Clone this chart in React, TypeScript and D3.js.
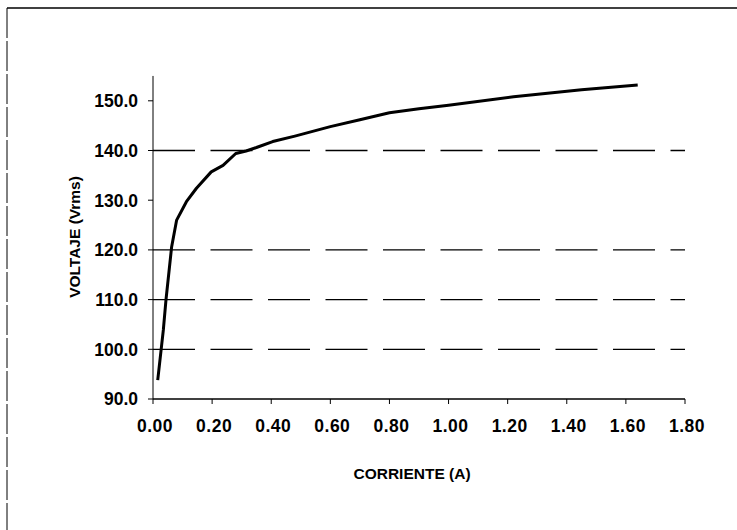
import * as d3 from "d3";
import React from "react";

const width = 737;
const height = 530;
const margin = { top: 77, right: 52, bottom: 131, left: 153 };

// curva de saturacion: corriente (A) vs voltaje (Vrms)
const corriente = [0.016, 0.035, 0.044, 0.063, 0.08, 0.113, 0.147, 0.197, 0.237, 0.28, 0.315, 0.35, 0.405, 0.48, 0.6, 0.7, 0.8, 0.9, 1.0, 1.22, 1.45, 1.64];
const voltaje = [93.8, 103.9, 110, 120.6, 126, 129.7, 132.4, 135.7, 137, 139.4, 139.9, 140.6, 141.8, 142.9, 144.8, 146.2, 147.6, 148.4, 149.1, 150.8, 152.2, 153.2];

const xTicks = [0, 0.2, 0.4, 0.6, 0.8, 1.0, 1.2, 1.4, 1.6, 1.8];
const yTicks = [90, 100, 110, 120, 130, 140, 150];
const gridValues = [100, 110, 120, 140];

const font = "'Liberation Sans', Arial, sans-serif";

const App = () => {
  const x = d3
    .scaleLinear()
    .domain([0, 1.8])
    .range([margin.left, width - margin.right]);
  const y = d3
    .scaleLinear()
    .domain([90, 150])
    .range([height - margin.bottom, height - margin.bottom - 6 * 49.7]);

  const yTop = y(155);
  const yBottom = y(90);

  const line = d3
    .line<number>()
    .x((d) => x(d))
    .y((d, i) => y(voltaje[i]));

  return (
    <svg
      width={width}
      height={height}
      style={{ position: "absolute", left: 0, top: 0, background: "#fff" }}
    >
      {/* marco */}
      <line x1={7} y1={8} x2={width} y2={8} stroke="#000" strokeWidth={1.5} />
      <line x1={7} y1={8} x2={7} y2={height} stroke="#000" strokeWidth={1} strokeDasharray="30,3" />

      {/* lineas de division */}
      {gridValues.map((v) => (
        <line
          key={v}
          x1={x(0)}
          x2={x(1.8)}
          y1={y(v)}
          y2={y(v)}
          stroke="#000"
          strokeWidth={1.3}
          strokeDasharray="42,15.5"
        />
      ))}

      {/* eje Y */}
      <line x1={x(0)} x2={x(0)} y1={yTop} y2={yBottom} stroke="#000" strokeWidth={1} />
      {yTicks.map((t) => (
        <g key={t}>
          <line x1={x(0) - 5} x2={x(0)} y1={y(t)} y2={y(t)} stroke="#000" strokeWidth={1} />
          <text
            x={x(0) - 15}
            y={y(t) + 6.3}
            textAnchor="end"
            fontFamily={font}
            fontWeight="bold"
            fontSize={17.5}
          >
            {t.toFixed(1)}
          </text>
        </g>
      ))}

      {/* eje X */}
      <line x1={x(0)} x2={x(1.8)} y1={yBottom} y2={yBottom} stroke="#000" strokeWidth={1.3} />
      {xTicks.map((t) => (
        <g key={t}>
          <line x1={x(t)} x2={x(t)} y1={yBottom} y2={yBottom + 5} stroke="#000" strokeWidth={1} />
          <text
            x={x(t) + 2}
            y={yBottom + 33}
            textAnchor="middle"
            fontFamily={font}
            fontWeight="bold"
            fontSize={17.5}
            letterSpacing={0.5}
          >
            {t.toFixed(2)}
          </text>
        </g>
      ))}

      {/* curva */}
      <path d={line(corriente) || ""} fill="none" stroke="#000" strokeWidth={3} strokeLinejoin="round" />

      {/* titulos */}
      <text
        x={412}
        y={479}
        textAnchor="middle"
        fontFamily={font}
        fontWeight="bold"
        fontSize={15.5}
      >
        CORRIENTE (A)
      </text>
      <text
        transform="translate(80, 237) rotate(-90)"
        textAnchor="middle"
        fontFamily={font}
        fontWeight="bold"
        fontSize={15.5}
      >
        VOLTAJE (Vrms)
      </text>
    </svg>
  );
};

export default App;
